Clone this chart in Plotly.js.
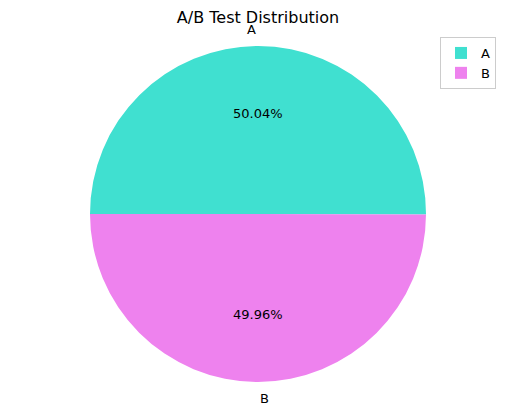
<!DOCTYPE html>
<html>
<head>
<meta charset="utf-8">
<script src="https://cdn.plot.ly/plotly-3.0.1.min.js"></script>
<style>html,body{margin:0;padding:0;background:#fff;}#chart{width:515px;height:416px;}</style>
</head>
<body>
<div id="chart"></div>
<script>
const labels = ['A', 'B'];
const values = [50.04, 49.96];
const colors = ['#40E0D0', '#EE82EE'];

const W = 515, H = 416;
const margin = {l: 90, r: 89, t: 46, b: 34};
const plotW = W - margin.l - margin.r;
const plotH = H - margin.t - margin.b;
const font = 'DejaVu Sans, sans-serif';

const total = values.reduce((a, b) => a + b, 0);
const annotations = [];
let cum = 0;
values.forEach((v, i) => {
  const mid = 2 * Math.PI * (cum + v / 2) / total;
  cum += v;
  const c = Math.cos(mid), s = Math.sin(mid);
  annotations.push({
    xref: 'paper', yref: 'paper',
    x: 0.5 + 0.5 * 1.1 * c * (plotH / plotW), y: 0.5 + 0.5 * 1.1 * s,
    text: labels[i], showarrow: false,
    xanchor: c < 0 ? 'right' : 'left', yanchor: 'middle',
    font: {family: font, size: 13, color: '#000'}
  });
  annotations.push({
    xref: 'paper', yref: 'paper',
    x: 0.5 + 0.5 * 0.6 * c * (plotH / plotW), y: 0.5 + 0.5 * 0.6 * s,
    text: (100 * v / total).toFixed(2) + '%', showarrow: false,
    xanchor: 'center', yanchor: 'middle',
    font: {family: font, size: 13, color: '#000'}
  });
});

const data = [{
  type: 'pie',
  labels: labels,
  values: values,
  marker: {colors: colors, line: {width: 0}},
  sort: false,
  direction: 'counterclockwise',
  rotation: -90,
  textinfo: 'none',
  hoverinfo: 'label+percent'
}];

const layout = {
  width: W, height: H,
  margin: margin,
  paper_bgcolor: '#fff',
  plot_bgcolor: '#fff',
  font: {family: font, size: 13, color: '#000'},
  title: {
    text: 'A/B Test Distribution',
    x: 0.5, xanchor: 'center', xref: 'paper',
    y: 1 - 17 / H, yanchor: 'middle', yref: 'container',
    font: {family: font, size: 16, color: '#000'}
  },
  showlegend: true,
  legend: {
    x: (440 - margin.l) / plotW, xanchor: 'left',
    y: 1 + (margin.t - 37) / plotH, yanchor: 'top',
    bordercolor: '#cccccc', borderwidth: 1,
    bgcolor: 'rgba(255,255,255,0.8)',
    font: {family: font, size: 13, color: '#000'},
    traceorder: 'normal'
  },
  annotations: annotations
};

Plotly.newPlot('chart', data, layout, {displayModeBar: false, staticPlot: true});
</script>
</body>
</html>
